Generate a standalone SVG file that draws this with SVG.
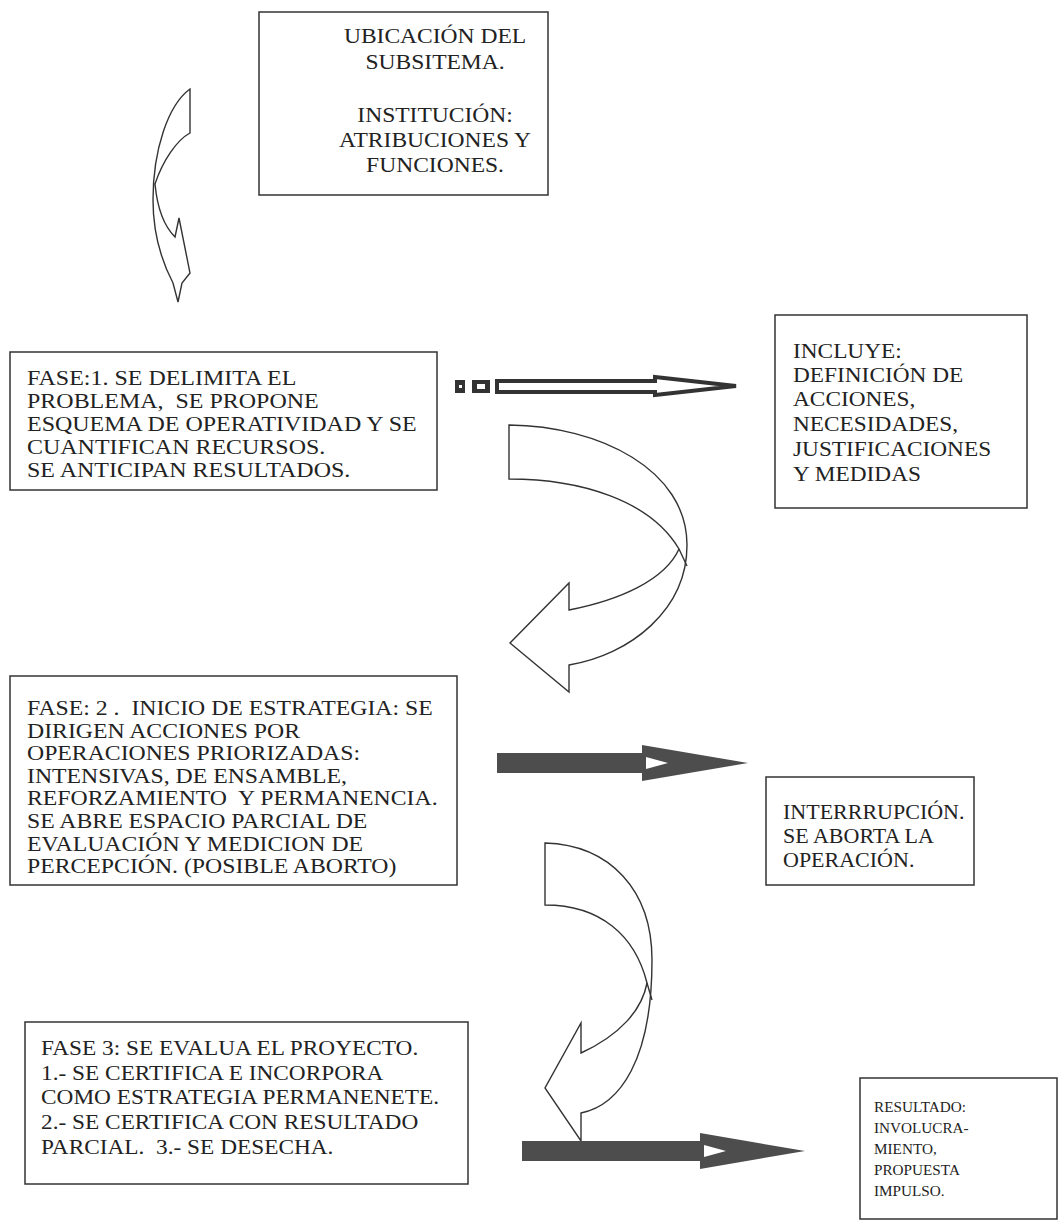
<svg xmlns="http://www.w3.org/2000/svg" width="1060" height="1223" viewBox="0 0 1060 1223">
<style>
.box{fill:#fff;stroke:#333;stroke-width:1.5}
.t{font-family:"Liberation Serif","Times New Roman",serif;font-size:22px;fill:#222;white-space:pre}
.ts{font-family:"Liberation Serif","Times New Roman",serif;font-size:14.5px;fill:#222}
.curve{fill:#fff;stroke:#333;stroke-width:1.4;stroke-linejoin:miter}
.gray{fill:#4d4d4d}
</style>
<rect width="1060" height="1223" fill="#fff"/>

<g id="ubicacion">
<rect class="box" x="259" y="12" width="289" height="183"/>
<text class="t" text-anchor="middle" transform="matrix(1.07,0,0,1,438,0)">
<tspan x="0" y="43">UBICACIÓN DEL</tspan>
<tspan x="0" y="69">SUBSITEMA.</tspan>
<tspan x="0" y="122">INSTITUCIÓN:</tspan>
<tspan x="0" y="147">ATRIBUCIONES Y</tspan>
<tspan x="0" y="172">FUNCIONES.</tspan>
</text>
</g>

<g id="fase1">
<rect class="box" x="10" y="352" width="427" height="138"/>
<text class="t" transform="matrix(1.09,0,0,1,27,0)">
<tspan x="0" y="385">FASE:1. SE DELIMITA EL</tspan>
<tspan x="0" y="408">PROBLEMA,  SE PROPONE</tspan>
<tspan x="0" y="431">ESQUEMA DE OPERATIVIDAD Y SE</tspan>
<tspan x="0" y="454">CUANTIFICAN RECURSOS.</tspan>
<tspan x="0" y="477">SE ANTICIPAN RESULTADOS.</tspan>
</text>
</g>

<g id="incluye">
<rect class="box" x="775" y="315" width="252" height="193"/>
<text class="t" transform="matrix(1.06,0,0,1,793,0)">
<tspan x="0" y="358">INCLUYE:</tspan>
<tspan x="0" y="382">DEFINICIÓN DE</tspan>
<tspan x="0" y="406">ACCIONES,</tspan>
<tspan x="0" y="431">NECESIDADES,</tspan>
<tspan x="0" y="456">JUSTIFICACIONES</tspan>
<tspan x="0" y="481">Y MEDIDAS</tspan>
</text>
</g>

<g id="fase2">
<rect class="box" x="10" y="676" width="447" height="209"/>
<text class="t" transform="matrix(1.08,0,0,1,27,0)">
<tspan x="0" y="715">FASE: 2 .  INICIO DE ESTRATEGIA: SE</tspan>
<tspan x="0" y="737.6">DIRIGEN ACCIONES POR</tspan>
<tspan x="0" y="760.2">OPERACIONES PRIORIZADAS:</tspan>
<tspan x="0" y="782.8">INTENSIVAS, DE ENSAMBLE,</tspan>
<tspan x="0" y="805.4">REFORZAMIENTO  Y PERMANENCIA.</tspan>
<tspan x="0" y="828">SE ABRE ESPACIO PARCIAL DE</tspan>
<tspan x="0" y="850.6">EVALUACIÓN Y MEDICION DE</tspan>
<tspan x="0" y="873.2">PERCEPCIÓN. (POSIBLE ABORTO)</tspan>
</text>
</g>

<g id="interrupcion">
<rect class="box" x="766" y="777" width="208" height="108"/>
<text class="t" transform="matrix(1.0,0,0,1,783,0)">
<tspan x="0" y="819">INTERRRUPCIÓN.</tspan>
<tspan x="0" y="843">SE ABORTA LA</tspan>
<tspan x="0" y="867">OPERACIÓN.</tspan>
</text>
</g>

<g id="fase3">
<rect class="box" x="25" y="1022" width="443" height="162"/>
<text class="t" transform="matrix(1.06,0,0,1,41,0)">
<tspan x="0" y="1055">FASE 3: SE EVALUA EL PROYECTO.</tspan>
<tspan x="0" y="1080">1.- SE CERTIFICA E INCORPORA</tspan>
<tspan x="0" y="1104">COMO ESTRATEGIA PERMANENETE.</tspan>
<tspan x="0" y="1129">2.- SE CERTIFICA CON RESULTADO</tspan>
<tspan x="0" y="1154">PARCIAL.  3.- SE DESECHA.</tspan>
</text>
</g>

<g id="resultado">
<rect class="box" x="860" y="1078" width="197" height="141"/>
<text class="ts" transform="matrix(1.05,0,0,1,874,0)">
<tspan x="0" y="1112">RESULTADO:</tspan>
<tspan x="0" y="1133">INVOLUCRA-</tspan>
<tspan x="0" y="1154">MIENTO,</tspan>
<tspan x="0" y="1175">PROPUESTA</tspan>
<tspan x="0" y="1196">IMPULSO.</tspan>
</text>
</g>

<g id="connectors">
<!-- top-left curved arrow -->
<path class="curve" d="M190,89 L190,133 C177,140 163,160 155,184 C157,205 163,225 175,237 L179,218 L190,273 L182,283 L178,302 L173,283 C160,258 153,230 153,200 C153,150 168,105 190,89 Z"/>
<!-- striped arrow -->
<rect x="455" y="380" width="10" height="13" fill="#333"/>
<rect x="459" y="385" width="3" height="3" fill="#fff"/>
<rect x="472" y="380" width="18" height="13" fill="#333"/>
<rect x="477" y="384" width="8" height="5" fill="#fff"/>
<path d="M497,381 L655,381 L655,377 L736,386 L655,395 L655,392 L497,392 Z" fill="#fff" stroke="#333" stroke-width="4" stroke-linejoin="miter"/>
<!-- big curved arrow 1 -->
<path class="curve" d="M509,425 C600,426 687,470 687,545 C687,610 630,655 569,665 L569,692 L510,643 L569,583 L569,610 C620,600 665,580 679,549 C650,500 580,479 509,479 Z"/>
<path d="M679,549 L687,566" fill="none" stroke="#333" stroke-width="1.4"/>
<!-- gray arrow 1 -->
<path class="gray" d="M497,753 L642,753 L642,745 L748,763 L642,781 L642,773 L497,773 Z"/>
<path d="M646,757 L668,763 L646,769 Z" fill="#fff"/>
<!-- big curved arrow 2 -->
<path class="curve" d="M545,843 C610,845 652,890 652,960 C652,1060 620,1105 581,1113 L581,1141 L545,1088 L581,1023 L581,1053 C620,1035 642,1010 647,983 C635,935 600,905 545,905 Z"/>
<path d="M647,983 L652,1000" fill="none" stroke="#333" stroke-width="1.4"/>
<!-- gray arrow 2 -->
<path class="gray" d="M522,1141 L700,1141 L700,1133 L805,1151 L700,1169 L700,1161 L522,1161 Z"/>
<path d="M704,1145 L726,1151 L704,1157 Z" fill="#fff"/>
</g>
</svg>
